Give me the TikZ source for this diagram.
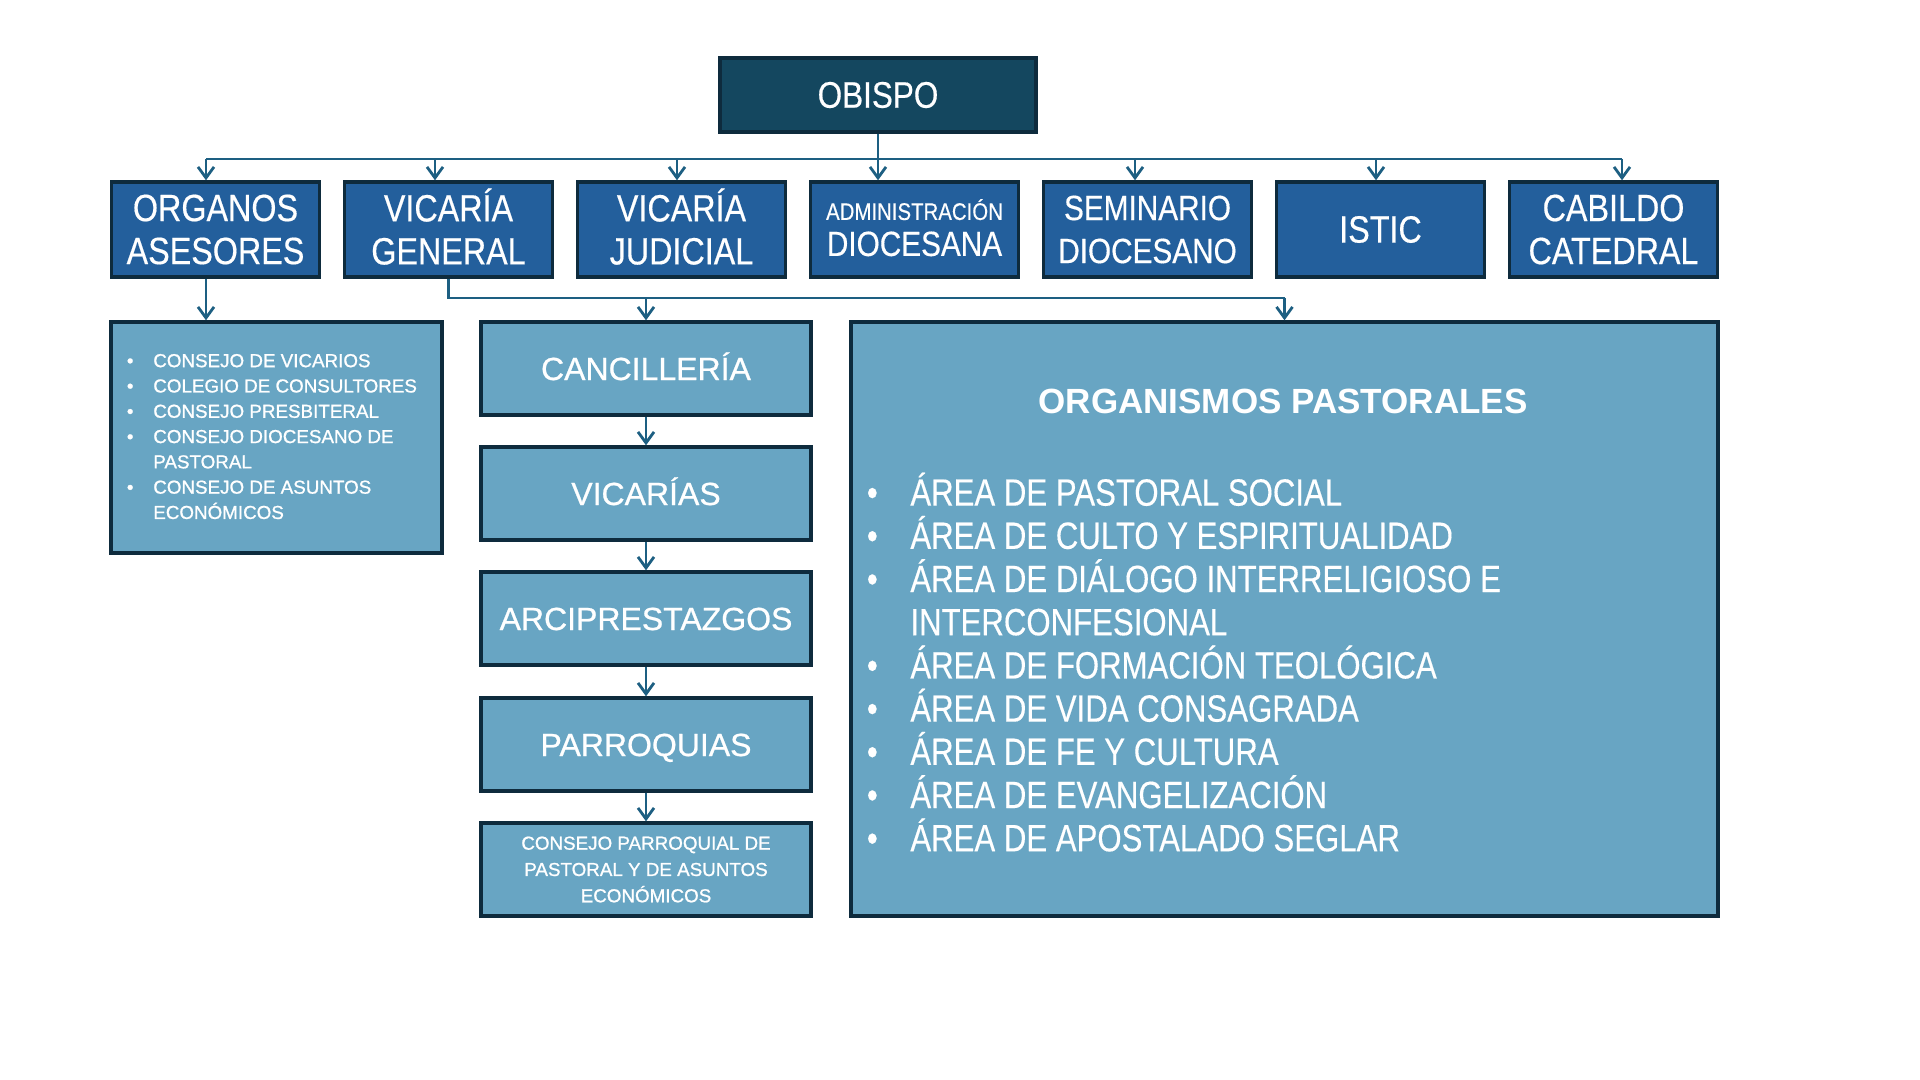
\documentclass[tikz,border=0pt]{standalone}
\usepackage{fontspec}
\setmainfont{Liberation Sans}
\newfontfamily\narrowf[FakeStretch=0.85,FakeBold=0.4]{Liberation Sans}
\newfontfamily\listf[FakeStretch=0.82,FakeBold=0.3]{Liberation Sans}
\newfontfamily\semif[FakeBold=1]{Liberation Sans}
\newfontfamily\medf[FakeBold=0.7]{Liberation Sans}
\usetikzlibrary{arrows.meta}
\definecolor{obfill}{HTML}{14475F}
\definecolor{topfill}{HTML}{235F9C}
\definecolor{lowfill}{HTML}{68A5C3}
\definecolor{bordc}{HTML}{0E2B3D}
\definecolor{connc}{HTML}{1D5F82}
\newcommand{\pbul}{\llap{\makebox[21.75pt][l]{•}}}
\tikzset{
  box/.style={draw=bordc, line width=1.7pt, text=white, inner sep=0pt, align=center},
  topbox/.style={box, fill=topfill, minimum width=104pt, minimum height=47.5pt,
     font=\narrowf\fontsize{19}{21.5}\selectfont},
  colbox/.style={draw=bordc, line width=1.7pt, text=white, inner sep=0pt,
     fill=lowfill, minimum width=165pt, minimum height=46.5pt,
     text height=11.5pt, text depth=0pt,
     font=\medf\fontsize{16}{19}\selectfont},
  conn/.style={draw=connc, line width=1.4pt},
  arr/.style={conn, -{Straight Barb[length=5.5pt,width=8pt]}},
}
\begin{document}
\begin{tikzpicture}[x=0.5pt,y=-0.5pt]
\useasboundingbox[fill=white] (0,0) rectangle (1920,1080);
% top
\node[box, fill=obfill, minimum width=158pt, minimum height=37pt,
      font=\narrowf\fontsize{18.5}{20}\selectfont] (obispo) at (878,95) {OBISPO};
\node[topbox] (org) at (215.5,229.5) {ORGANOS\\ASESORES};
\node[topbox] (vg)  at (448.5,229.5) {\raisebox{0pt}[13.6pt][0pt]{VICARÍA}\\GENERAL};
\node[topbox] (vj)  at (681.5,229.5) {\raisebox{0pt}[13.6pt][0pt]{VICARÍA}\\JUDICIAL};
\node[topbox, font=\narrowf\fontsize{17.5}{18}\selectfont] (adm) at (914.5,229.5)
   {\raisebox{0pt}[8.6pt][0pt]{\fontsize{12}{18}\selectfont ADMINISTRACIÓN}\\DIOCESANA};
\node[topbox, font=\narrowf\fontsize{17.5}{21.5}\selectfont] (sem) at (1147.5,229.5) {SEMINARIO\\DIOCESANO};
\node[topbox] (ist) at (1380.5,229.5) {ISTIC};
\node[topbox] (cab) at (1613.5,229.5) {CABILDO\\CATEDRAL};
% bus
\coordinate (b1) at (206,159);
\coordinate (b2) at (435,159);
\coordinate (b3) at (677,159);
\coordinate (b5) at (1135,159);
\coordinate (b6) at (1376,159);
\coordinate (b7) at (1622,159);
\draw[conn] (b1) -- (b7);
\draw[arr] (obispo.south) -- (obispo.south |- adm.north);
\draw[arr] (b1) -- (b1 |- org.north);
\draw[arr] (b2) -- (b2 |- vg.north);
\draw[arr] (b3) -- (b3 |- vj.north);
\draw[arr] (b5) -- (b5 |- sem.north);
\draw[arr] (b6) -- (b6 |- ist.north);
\draw[arr] (b7) -- (b7 |- cab.north);
% organos asesores list
\node[box, fill=lowfill, minimum width=165.5pt, minimum height=115.5pt] (ase) at (276.5,437.5) {};
\node[anchor=west, inner sep=0pt, text=white, font=\semif\fontsize{9.4}{12.65}\selectfont] (aselist) at (126.5,438)
 {\begin{tabular}{@{}p{13.2pt}@{}l@{}}
 • & CONSEJO DE VICARIOS\\
 • & COLEGIO DE CONSULTORES\\
 • & CONSEJO PRESBITERAL\\
 • & CONSEJO DIOCESANO DE\\
   & PASTORAL\\
 • & CONSEJO DE ASUNTOS\\
   & ECONÓMICOS
 \end{tabular}};
\draw[arr] (b1 |- org.south) -- (b1 |- ase.north);
% column
\node[colbox] (canc) at (646,368.5) {CANCILLERÍA};
\node[colbox] (vics) at (646,493.5) {VICARÍAS};
\node[colbox] (arci) at (646,618.5) {ARCIPRESTAZGOS};
\node[colbox] (parr) at (646,744.5) {PARROQUIAS};
\node[box, fill=lowfill, minimum width=165pt, minimum height=46.5pt,
      font=\semif\fontsize{9.4}{13.15}\selectfont] (cons) at (646,869.5)
  {CONSEJO PARROQUIAL DE\\PASTORAL Y DE ASUNTOS\\ECONÓMICOS};
\draw[arr] (canc) -- (vics);
\draw[arr] (vics) -- (arci);
\draw[arr] (arci) -- (parr);
\draw[arr] (parr) -- (cons);
% organismos pastorales
\node[box, fill=lowfill, minimum width=433.5pt, minimum height=297pt] (pas) at (1284.5,619) {};
\node[text=white, inner sep=0pt, font=\bfseries\fontsize{17.5}{20}\selectfont] (pastit) at (1283,401) {ORGANISMOS PASTORALES};
\node[anchor=north west, inner sep=0pt, text=white, align=left,
      font=\listf\fontsize{19}{21.6}\selectfont] (paslist) at (910,487.5)
 {\pbul\smash{ÁREA DE PASTORAL SOCIAL}\\
  \pbul ÁREA DE CULTO Y ESPIRITUALIDAD\\
  \pbul ÁREA DE DIÁLOGO INTERRELIGIOSO E\\
  INTERCONFESIONAL\\
  \pbul ÁREA DE FORMACIÓN TEOLÓGICA\\
  \pbul ÁREA DE VIDA CONSAGRADA\\
  \pbul ÁREA DE FE Y CULTURA\\
  \pbul ÁREA DE EVANGELIZACIÓN\\
  \pbul ÁREA DE APOSTALADO SEGLAR};
% vicaria general branch
\coordinate (vgj) at (448.5,298);
\draw[conn] (vg.south) -- (vgj) -- (vgj -| pas.north);
\draw[arr] (vgj -| canc.north) -- (canc.north);
\draw[arr] (vgj -| pas.north) -- (pas.north);
\end{tikzpicture}
\end{document}
